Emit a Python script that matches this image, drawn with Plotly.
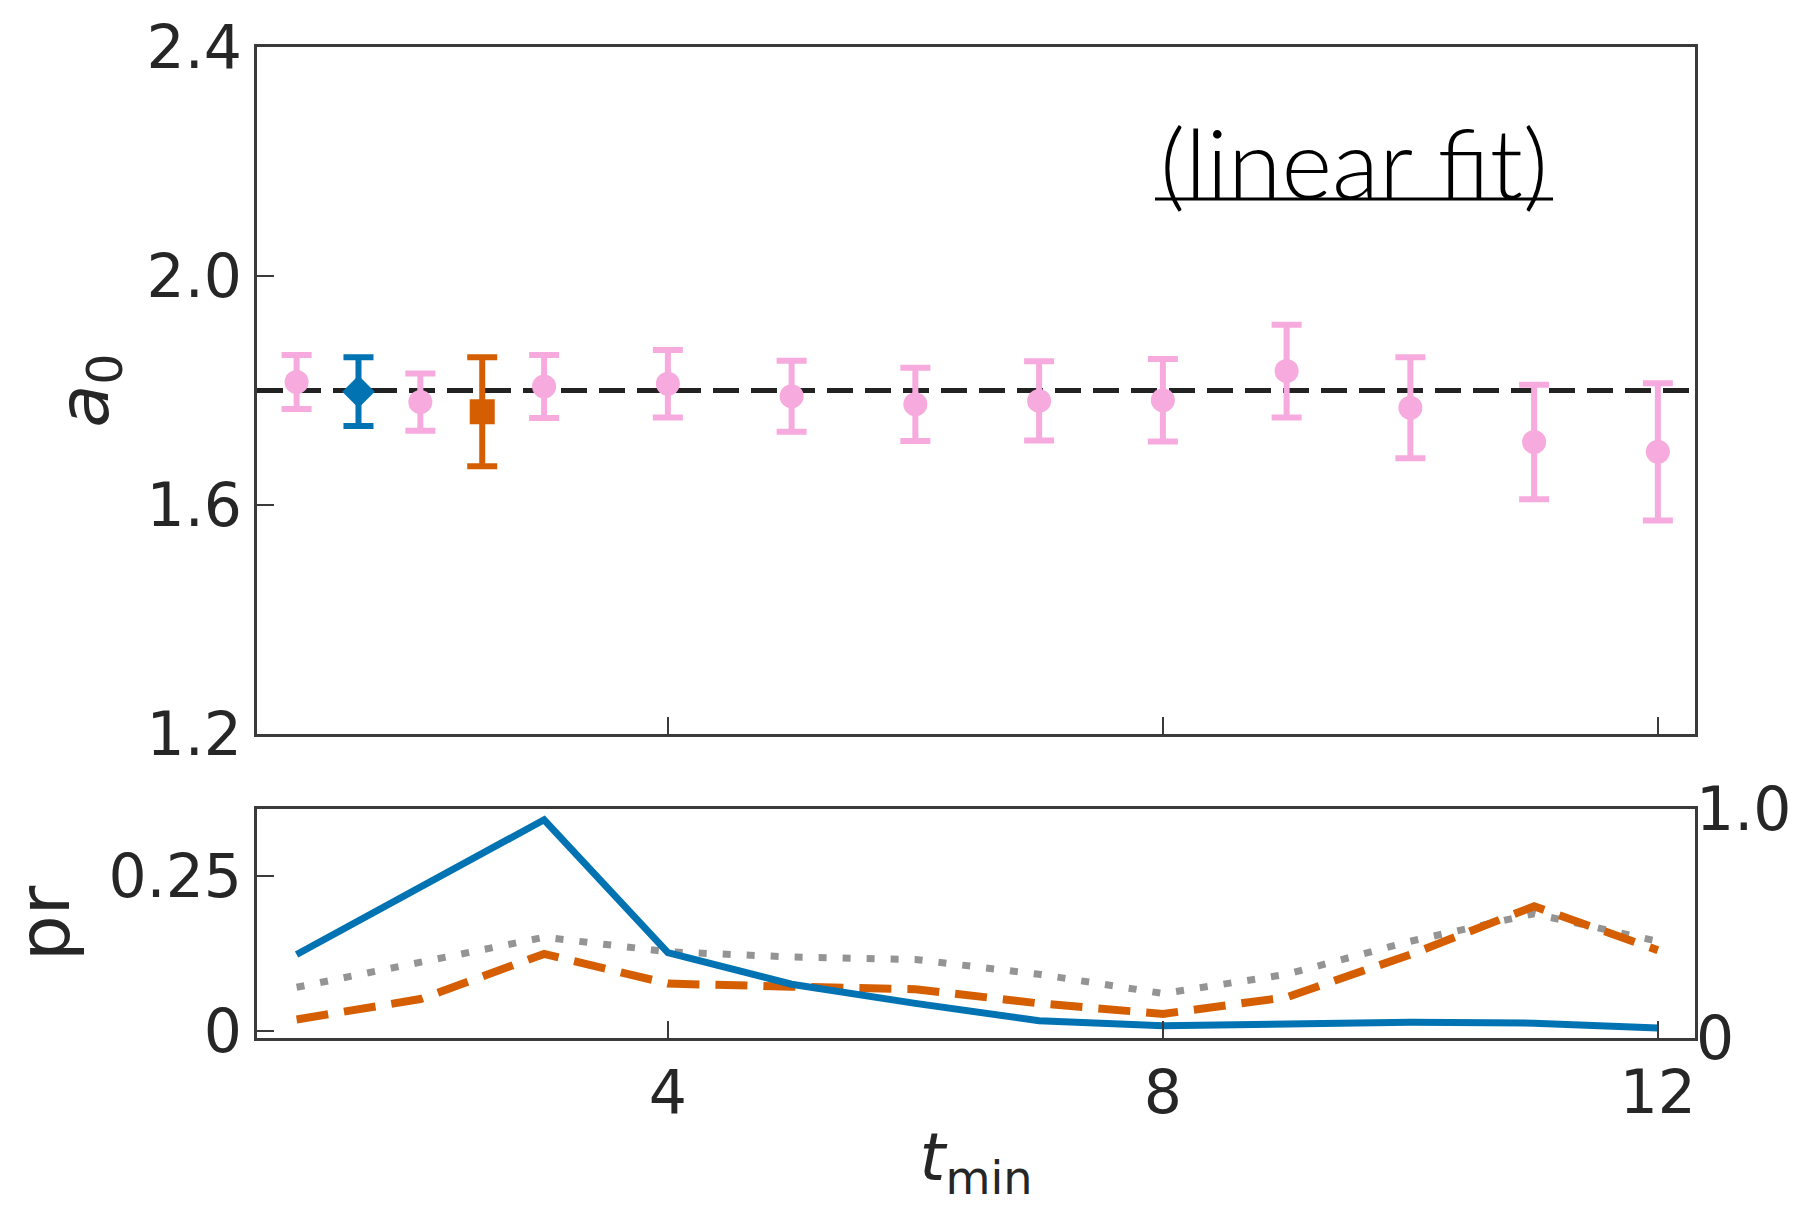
import plotly.graph_objects as go

# ---------------- data ----------------
# top panel: a0 vs t_min (pink = other fits)
t_pink = [1, 2, 3, 4, 5, 6, 7, 8, 9, 10, 11, 12]
a0_pink = [1.815, 1.780, 1.807, 1.812, 1.790, 1.776, 1.782, 1.783, 1.834, 1.770, 1.710, 1.693]
a0_pink_err = [0.047, 0.050, 0.055, 0.059, 0.062, 0.064, 0.069, 0.072, 0.081, 0.088, 0.100, 0.120]

t_blue = [1.5]
a0_blue = [1.798]
a0_blue_err = [0.060]

t_orange = [2.5]
a0_orange = [1.763]
a0_orange_err = [0.095]

fit_value = 1.80
x_range = [0.68, 12.3]

# bottom panel: pr vs t_min
t_pr = [1, 2, 3, 4, 5, 6, 7, 8, 9, 10, 11, 12]
pr_blue = [0.123, 0.232, 0.341, 0.126, 0.075, 0.044, 0.016, 0.008, 0.011, 0.0135, 0.012, 0.004]
pr_orange = [0.018, 0.051, 0.124, 0.076, 0.071, 0.067, 0.044, 0.027, 0.054, 0.123, 0.201, 0.130]
pr_gray = [0.070, 0.110, 0.151, 0.1275, 0.119, 0.115, 0.091, 0.060, 0.091, 0.1445, 0.189, 0.1445]

x_ticks = [4, 8, 12]
top_y_ticks = [1.2, 1.6, 2.0, 2.4]
top_y_ticktext = ["1.2", "1.6", "2.0", "2.4"]
pr_ticks = [0, 0.25]
pr_ticktext = ["0", "0.25"]
right_ticks = [0, 1.0]
right_ticktext = ["0", "1.0"]

# ---------------- style ----------------
BLUE = "#0173B2"
ORANGE = "#D55E00"
PINK = "#F7AADD"
GRAY = "#949494"
FONT = "DejaVu Sans"
TICKCOL = "#262626"
SPINE = "#3a3a3a"

W, H = 1814, 1205
L, R, T, B = 257, 119, 46, 161
plot_w = W - L - R
plot_h = H - T - B
top_dom = [(1044 - 738) / plot_h, 1.0]
bot_dom = [0.0, (1044 - 813) / plot_h]

fig = go.Figure()

# fit line
fig.add_trace(go.Scatter(
    x=x_range, y=[fit_value, fit_value], mode="lines",
    line=dict(color="#222222", width=5, dash="26px,12px"),
    xaxis="x", yaxis="y", showlegend=False, hoverinfo="skip"))

def err_trace(xs, ys, es, color, symbol, size):
    return go.Scatter(
        x=xs, y=ys, mode="markers",
        marker=dict(color=color, symbol=symbol, size=size, line=dict(width=0)),
        error_y=dict(type="data", array=es, visible=True, color=color,
                     thickness=6, width=15),
        xaxis="x", yaxis="y", showlegend=False)

fig.add_trace(err_trace(t_pink, a0_pink, a0_pink_err, PINK, "circle", 24))
fig.add_trace(err_trace(t_blue, a0_blue, a0_blue_err, BLUE, "diamond", 25))
fig.add_trace(err_trace(t_orange, a0_orange, a0_orange_err, ORANGE, "square", 25))

# bottom panel lines
fig.add_trace(go.Scatter(
    x=t_pr, y=pr_gray, mode="lines",
    line=dict(color=GRAY, width=7, dash="8px,16px"),
    xaxis="x2", yaxis="y2", showlegend=False))
fig.add_trace(go.Scatter(
    x=t_pr, y=pr_orange, mode="lines",
    line=dict(color=ORANGE, width=8, dash="32px,16px"),
    xaxis="x2", yaxis="y2", showlegend=False))
fig.add_trace(go.Scatter(
    x=t_pr, y=pr_blue, mode="lines",
    line=dict(color=BLUE, width=7),
    xaxis="x2", yaxis="y2", showlegend=False))
# right axis carrier (no visible marks)
fig.add_trace(go.Scatter(
    x=[None], y=[None], mode="markers",
    xaxis="x2", yaxis="y3", showlegend=False, hoverinfo="skip"))

tickfont = dict(family=FONT, size=60, color=TICKCOL)

common_x = dict(range=x_range, tickvals=x_ticks, ticks="inside", ticklen=17,
                tickwidth=2, tickcolor=SPINE, showline=True, linecolor=SPINE,
                linewidth=3, mirror=True, showgrid=False, zeroline=False)

fig.update_layout(
    width=W, height=H,
    margin=dict(l=L, r=R, t=T, b=B, pad=0),
    paper_bgcolor="white", plot_bgcolor="white",
    xaxis=dict(domain=[0, 1], anchor="y", showticklabels=False, **common_x),
    yaxis=dict(domain=top_dom, anchor="x", range=[1.2, 2.4],
               tickvals=top_y_ticks, ticktext=top_y_ticktext,
               ticks="inside", ticklen=17, tickwidth=2, tickcolor=SPINE,
               showline=True, linecolor=SPINE, linewidth=3, mirror=True,
               showgrid=False, zeroline=False, tickfont=tickfont,
               title=dict(text="<i>a</i><sub>0</sub>",
                          font=dict(family=FONT, size=70, color=TICKCOL),
                          standoff=16)),
    xaxis2=dict(domain=[0, 1], anchor="y2", tickfont=tickfont,
                ticktext=[str(v) for v in x_ticks],
                title=dict(text="<i>t</i><sub>min</sub>",
                           font=dict(family=FONT, size=66, color=TICKCOL),
                           standoff=20),
                **common_x),
    yaxis2=dict(domain=bot_dom, anchor="x2", range=[-0.012, 0.359],
                tickvals=pr_ticks, ticktext=pr_ticktext,
                ticks="inside", ticklen=17, tickwidth=2, tickcolor=SPINE,
                showline=True, linecolor=SPINE, linewidth=3, mirror=True,
                showgrid=False, zeroline=False, tickfont=tickfont,
                title=dict(text="pr",
                           font=dict(family=FONT, size=72, color=TICKCOL),
                           standoff=16)),
    yaxis3=dict(overlaying="y2", anchor="x2", side="right", range=[0, 1],
                tickvals=right_ticks, ticktext=right_ticktext, ticks="",
                showline=False, showgrid=False, zeroline=False,
                tickfont=tickfont),
    annotations=[dict(
        text="(linear fit)", xref="paper", yref="paper",
        x=(1354 - L) / plot_w, y=(1044 - 161) / plot_h,
        xanchor="center", yanchor="middle", showarrow=False,
        font=dict(family="Lato", size=97, color="black", weight=300))],
    shapes=[dict(
        type="line", xref="paper", yref="paper",
        x0=(1155 - L) / plot_w, x1=(1553 - L) / plot_w,
        y0=(1044 - 199) / plot_h, y1=(1044 - 199) / plot_h,
        line=dict(color="black", width=3))],
)

fig.write_html("out.html")
